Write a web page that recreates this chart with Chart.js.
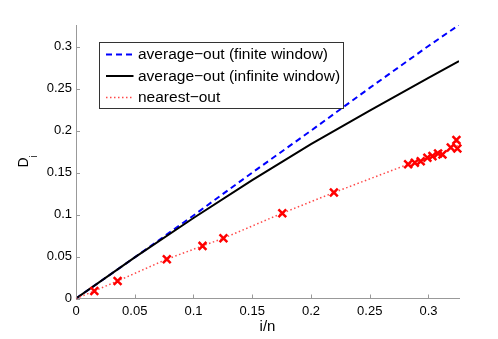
<!DOCTYPE html>
<html>
<head>
<meta charset="utf-8">
<script src="https://cdn.jsdelivr.net/npm/chart.js@4.4.1/dist/chart.umd.min.js"></script>
<style>
    html, body { margin: 0; padding: 0; background: #fff; }
</style>
</head>
<body>
<canvas id="diChart" width="498" height="339"></canvas>
<script>
// values
const curveX = [0, 0.05, 0.1, 0.15, 0.2, 0.25, 0.3, 0.326];
const finiteY = [0, 0.049, 0.099, 0.15, 0.2, 0.251, 0.301, 0.326];
const infiniteY = [0, 0.049, 0.096, 0.141, 0.184, 0.224, 0.263, 0.283];
const nearestX = [0, 0.0156, 0.0354, 0.0773, 0.1077, 0.1255, 0.1756, 0.2195, 0.2827, 0.2884,
    0.2934, 0.2991, 0.3034, 0.3082, 0.3119, 0.319, 0.3238, 0.3246];
const nearestY = [0, 0.0089, 0.0209, 0.0468, 0.0627, 0.0718, 0.1017, 0.1263, 0.16, 0.1617,
    0.1637, 0.1677, 0.1697, 0.1728, 0.1716, 0.18, 0.1888, 0.1788];
const xTicks = [0, 0.05, 0.1, 0.15, 0.2, 0.25, 0.3];
const yTicks = [0, 0.05, 0.1, 0.15, 0.2, 0.25, 0.3];
const seriesNames = ["average\u2212out (finite window)", "average\u2212out (infinite window)", "nearest\u2212out"];

const FONT = "'Liberation Sans', Arial, sans-serif";
const AXIS_GREY = "#999";

function pairs(xs, ys) {
    return xs.map((x, i) => ({ x: x, y: ys[i] }));
}

// matlab style ticks pointing into the plot
const inwardTicks = {
    id: "inwardTicks",
    afterDatasetsDraw(chart) {
        const { ctx, chartArea: a } = chart;
        const x = chart.scales.x;
        const y = chart.scales.y;
        ctx.save();
        ctx.strokeStyle = AXIS_GREY;
        ctx.lineWidth = 1;
        ctx.beginPath();
        x.ticks.forEach((t) => {
            const px = Math.round(x.getPixelForValue(t.value)) + 0.5;
            ctx.moveTo(px, a.bottom);
            ctx.lineTo(px, a.bottom - 4);
        });
        y.ticks.forEach((t) => {
            const py = Math.round(y.getPixelForValue(t.value)) + 0.5;
            ctx.moveTo(a.left, py);
            ctx.lineTo(a.left + 4, py);
        });
        ctx.stroke();
        ctx.restore();
    },
};

// legend box inside the axes + the D_i label
const boxLegend = {
    id: "boxLegend",
    afterDraw(chart) {
        const ctx = chart.ctx;
        const box = { left: 99.5, top: 42.5, width: 244, height: 66 };
        const rows = [54.5, 76, 97.5];
        ctx.save();
        ctx.fillStyle = "#fff";
        ctx.fillRect(box.left, box.top, box.width, box.height);
        ctx.strokeStyle = "#333";
        ctx.lineWidth = 1;
        ctx.strokeRect(box.left, box.top, box.width, box.height);

        chart.data.datasets.forEach((ds, i) => {
            const yRow = rows[i];
            ctx.strokeStyle = ds.borderColor;
            ctx.lineWidth = ds.borderWidth;
            ctx.setLineDash(ds.borderDash || []);
            ctx.beginPath();
            ctx.moveTo(106, yRow);
            ctx.lineTo(133.5, yRow);
            ctx.stroke();
            ctx.setLineDash([]);
            ctx.fillStyle = "#000";
            ctx.font = "15.5px " + FONT;
            ctx.textBaseline = "middle";
            ctx.textAlign = "left";
            ctx.fillText(ds.label, 138, yRow + 0.5);
        });

        // y label with subscript
        ctx.translate(28.3, 167.5);
        ctx.rotate(-Math.PI / 2);
        ctx.textBaseline = "alphabetic";
        ctx.fillStyle = "#000";
        ctx.font = "14px " + FONT;
        ctx.fillText("D", 0, 0);
        const w = ctx.measureText("D").width;
        ctx.font = "10px " + FONT;
        ctx.fillText("i", w, 8.4);
        ctx.restore();
    },
};

new Chart(document.getElementById("diChart"), {
    type: "line",
    data: {
        datasets: [
            {
                label: seriesNames[0],
                data: pairs(curveX, finiteY),
                borderColor: "#0000ff",
                borderWidth: 2,
                borderDash: [6, 4],
                pointRadius: 0,
                order: 2,
            },
            {
                label: seriesNames[1],
                data: pairs(curveX, infiniteY),
                borderColor: "#000",
                borderWidth: 2,
                pointRadius: 0,
                order: 1,
            },
            {
                label: seriesNames[2],
                data: pairs(nearestX, nearestY),
                borderColor: "rgba(255, 40, 40, 0.85)",
                borderWidth: 1.5,
                borderDash: [1.5, 2.5],
                pointStyle: "crossRot",
                pointRadius: (c) => (c.dataIndex === 0 ? 0 : 5.5),
                pointBorderColor: "#ff0000",
                pointBorderWidth: 2.5,
                clip: false,
                order: 0,
            },
        ],
    },
    options: {
        responsive: false,
        animation: false,
        layout: {
            padding: { top: 25, right: 39, left: 0, bottom: 0 },
        },
        plugins: {
            legend: { display: false },
            tooltip: { enabled: false },
        },
        scales: {
            x: {
                type: "linear",
                min: 0,
                max: 0.326,
                afterBuildTicks: (s) => { s.ticks = xTicks.map((v) => ({ value: v })); },
                afterFit: (s) => { s.height = 40.5; },
                ticks: {
                    color: "#000",
                    padding: 5,
                    font: { family: FONT, size: 13 },
                    callback: (v) => String(+v.toFixed(2)),
                },
                grid: { display: false, drawTicks: false },
                border: { display: true, color: AXIS_GREY, width: 1 },
                title: {
                    display: true,
                    text: "i/n",
                    color: "#000",
                    font: { family: FONT, size: 15 },
                    padding: { top: 0, bottom: 3 },
                },
            },
            y: {
                type: "linear",
                min: 0,
                max: 0.326,
                afterBuildTicks: (s) => { s.ticks = yTicks.map((v) => ({ value: v })); },
                afterFit: (s) => { s.width = 76; },
                ticks: {
                    color: "#000",
                    padding: 4,
                    font: { family: FONT, size: 13 },
                    callback: (v) => String(+v.toFixed(2)),
                },
                grid: { display: false, drawTicks: false },
                border: { display: true, color: AXIS_GREY, width: 1 },
            },
        },
    },
    plugins: [inwardTicks, boxLegend],
});
</script>
</body>
</html>
